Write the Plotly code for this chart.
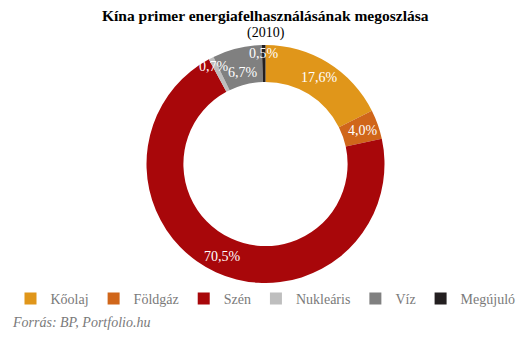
import math
import plotly.graph_objects as go

categories = ["Kőolaj", "Földgáz", "Szén", "Nukleáris", "Víz", "Megújuló"]
values = [17.6, 4.0, 70.5, 0.7, 6.7, 0.5]
labels_text = ["17,6%", "4,0%", "70,5%", "0,7%", "6,7%", "0,5%"]
colors = ["#E0961A", "#D0661A", "#A8070A", "#BEBEBE", "#808080", "#231F20"]

W, H = 529, 340
ML, MR, MT, MB = 2, 0, 45, 53
PW, PH = W - ML - MR, H - MT - MB
SERIF = "Liberation Serif, Georgia, serif"

fig = go.Figure(go.Pie(
    labels=categories, values=values, sort=False, direction="clockwise",
    rotation=0, hole=0.69, textinfo="none", hoverinfo="label+percent",
    marker=dict(colors=colors, line=dict(width=0)),
))

def px_to_paper_y(py):
    return (H - MB - py) / PH

annotations = []
total = sum(values)
cum = 0.0
for v, t in zip(values, labels_text):
    mid = (cum + v / 2) / total * 2 * math.pi
    cum += v
    # small slices: label pushed slightly outward, as in the original
    r_lab = 112 if v < 1 else (96 if v < 10 and mid > math.pi else 103)
    x = 0.5 + r_lab * math.sin(mid) / PW
    y = 0.5 + r_lab * math.cos(mid) / PH
    annotations.append(dict(x=x, y=y, xref="paper", yref="paper", text=t,
                            showarrow=False, font=dict(family=SERIF, size=14, color="white"),
                            xanchor="center", yanchor="middle"))

annotations.append(dict(x=0.5, y=px_to_paper_y(15), xref="paper", yref="paper",
                        text="<b>Kína primer energiafelhasználásának megoszlása</b>",
                        showarrow=False, font=dict(family=SERIF, size=15.5, color="black"),
                        xanchor="center", yanchor="middle"))
annotations.append(dict(x=0.5, y=px_to_paper_y(33), xref="paper", yref="paper",
                        text="(2010)", showarrow=False,
                        font=dict(family=SERIF, size=14, color="black"),
                        xanchor="center", yanchor="middle"))
annotations.append(dict(x=(10 - ML) / PW, y=px_to_paper_y(327), xref="paper", yref="paper",
                        text="<i>Forrás: BP, Portfolio.hu</i>", showarrow=False,
                        font=dict(family=SERIF, size=14, color="#7a7a7a"),
                        xanchor="left", yanchor="middle"))

fig.update_layout(
    width=W, height=H,
    margin=dict(l=ML, r=MR, t=MT, b=MB),
    paper_bgcolor="white", plot_bgcolor="white",
    showlegend=True,
    legend=dict(orientation="h", x=0.5, xanchor="center", y=(H - 299) / H,
                yref="container", yanchor="middle",
                font=dict(family=SERIF, size=14, color="#7a7a7a"),
                itemwidth=30, tracegroupgap=0),
    annotations=annotations,
)

fig.write_html("out.html")
